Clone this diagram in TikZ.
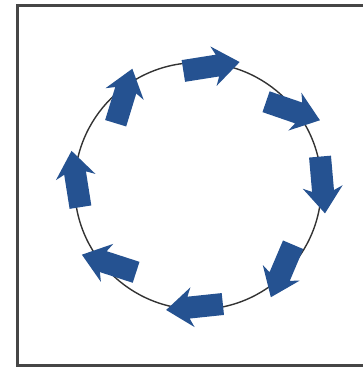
\documentclass[tikz,border=0pt]{standalone}
\usepackage{xcolor}
\usepackage{tikz}
\definecolor{flowB}{RGB}{37,82,145}
\definecolor{frameG}{RGB}{70,70,70}

\begin{document}
\begin{tikzpicture}[
  x=1pt, y=1pt,
  frame/.style={draw=frameG, line width=2.5pt},
  ring/.style={draw=black!80, line width=1.4pt},
  flow/.style={fill=flowB, draw=none}
]
\clip (0,0) rectangle (363,367);
\draw[frame] (375,361.5) -- (17.5,361.5) -- (17.5,1.5) -- (375,1.5);
\coordinate (c) at (198,181);
\draw[ring] (c) circle[radius=123.4];
\foreach \px/\py/\d in {211.5/300.5/9, 293/256/-19, 322.5/182/-85, 282/96/-113,
    194.5/60/-174, 109/103.5/162, 76/188/99, 124/271/73}
  \fill[flow, shift={(\px,\py)}, rotate=\d]
    (-28.5,-11) -- (6,-11) -- (2,-20) -- (28.5,0) -- (2,20) -- (6,11) -- (-28.5,11) -- cycle;
\end{tikzpicture}
\end{document}
